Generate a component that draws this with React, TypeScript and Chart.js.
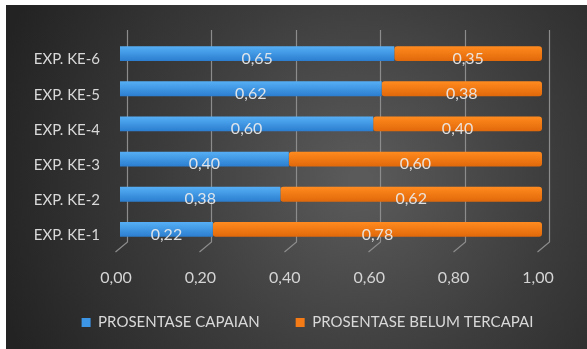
import React, { useEffect, useRef } from "react";
import { Chart, registerables } from "chart.js";

Chart.register(...registerables);

const categories = ["EXP. KE-1", "EXP. KE-2", "EXP. KE-3", "EXP. KE-4", "EXP. KE-5", "EXP. KE-6"];
const capaian = [0.22, 0.38, 0.4, 0.6, 0.62, 0.65];
const belumTercapai = [0.78, 0.62, 0.6, 0.4, 0.38, 0.35];
const seriesNames = ["PROSENTASE CAPAIAN", "PROSENTASE BELUM TERCAPAI"];

const FONT = "Lato, 'Open Sans', sans-serif";
const W = 587;
const H = 349;

const fmt = (v: number) => v.toFixed(2).replace(".", ",");

function barGradient(ctx: any, top: string, bottom: string) {
  const chart = ctx.chart;
  const yScale = chart.scales?.y;
  if (!yScale || ctx.dataIndex === undefined) return top;
  const y = yScale.getPixelForValue(ctx.dataIndex);
  const g = chart.ctx.createLinearGradient(0, y - 7, 0, y + 7);
  g.addColorStop(0, top);
  g.addColorStop(1, bottom);
  return g;
}

const backgroundPlugin = {
  id: "bgPlugin",
  beforeDraw(chart: any) {
    const { ctx } = chart;
    // place legend like the reference (centred at x≈307, text at y≈322)
    if (chart.legend) {
      const wdt = chart.legend.right - chart.legend.left;
      chart.legend.left = 36.5;
      chart.legend.right = 36.5 + wdt;
      chart.legend.top = 279;
      chart.legend.height = 70;
      chart.legend.bottom = 349;
    }
    ctx.save();
    ctx.fillStyle = "#ffffff";
    ctx.fillRect(0, 0, W, H);
    const g = ctx.createRadialGradient(360, 180, 10, 360, 180, 380);
    g.addColorStop(0, "#5a5a5a");
    g.addColorStop(0.5, "#3c3c3c");
    g.addColorStop(1, "#232323");
    ctx.fillStyle = g;
    ctx.fillRect(6, 5, W - 6, H - 5);
    ctx.restore();
  },
  beforeDatasetsDraw(chart: any) {
    const { ctx, chartArea } = chart;
    const x = chart.scales.x;
    ctx.save();
    ctx.strokeStyle = "#8c8c8c";
    ctx.lineWidth = 1.2;
    for (const t of x.ticks) {
      const px = Math.round(x.getPixelForValue(t.value)) + 7.5;
      ctx.beginPath();
      ctx.moveTo(px, chartArea.top - 6);
      ctx.lineTo(px, chartArea.bottom - 5);
      ctx.lineTo(px - 12, chartArea.bottom + 5);
      ctx.stroke();
    }
    ctx.restore();
  },
  afterDatasetsDraw(chart: any) {
    const { ctx } = chart;
    ctx.save();
    ctx.font = `16px ${FONT}`;
    ctx.fillStyle = "rgba(236,236,236,0.92)";
    ctx.textAlign = "center";
    ctx.textBaseline = "middle";
    chart.data.datasets.forEach((ds: any, di: number) => {
      const meta = chart.getDatasetMeta(di);
      meta.data.forEach((el: any, i: number) => {
        const cx = (el.x + el.base) / 2;
        ctx.fillText(fmt(ds.data[i]), cx, el.y + 5);
      });
    });
    ctx.restore();
  },
};

export default function App() {
  const ref = useRef<HTMLCanvasElement>(null);
  useEffect(() => {
    document.body.style.margin = "0";
    const chart = new Chart(ref.current!, {
      type: "bar",
      data: {
        labels: categories,
        datasets: [
          {
            label: seriesNames[0],
            data: capaian,
            backgroundColor: (c: any) => barGradient(c, "#55aef5", "#2c7fd0"),
            borderRadius: 3,
            borderSkipped: false,
            categoryPercentage: 1,
            barPercentage: 0.42,
          },
          {
            label: seriesNames[1],
            data: belumTercapai,
            backgroundColor: (c: any) => barGradient(c, "#ff8a1e", "#e2690a"),
            borderRadius: 3,
            borderSkipped: false,
            categoryPercentage: 1,
            barPercentage: 0.42,
          },
        ],
      },
      options: {
        indexAxis: "y",
        animation: false,
        responsive: false,
        layout: { padding: { top: 36, right: 45, left: 0, bottom: 7 } },
        scales: {
          x: {
            stacked: true,
            min: 0,
            max: 1,
            border: { display: false },
            grid: { display: false },
            ticks: {
              stepSize: 0.2,
              padding: 13,
              labelOffset: -4,
              color: "#d4d4d4",
              font: { family: FONT, size: 16 },
              callback: (v: any) => fmt(Number(v)),
            },
            afterFit: (s: any) => {
              s.height = 55;
            },
          },
          y: {
            stacked: true,
            reverse: true,
            border: { display: false },
            grid: { display: false },
            ticks: {
              padding: 12,
              labelOffset: 6,
              color: "#d9d9d9",
              font: { family: FONT, size: 15 },
            },
            afterFit: (s: any) => {
              s.width = 120;
            },
          },
        },
        plugins: {
          legend: {
            position: "bottom",
            maxHeight: 40,
            labels: {
              color: "#d9d9d9",
              font: { family: FONT, size: 15 },
              boxWidth: 9,
              boxHeight: 9,
              padding: 36,
              generateLabels: () =>
                seriesNames.map((n, i) => ({
                  text: n,
                  fillStyle: i === 0 ? "#3d95e6" : "#f47b16",
                  strokeStyle: i === 0 ? "#3d95e6" : "#f47b16",
                  lineWidth: 0,
                  fontColor: "#d9d9d9",
                  datasetIndex: i,
                  hidden: false,
                })),
            },
          },
          tooltip: { enabled: false },
        },
      },
      plugins: [backgroundPlugin],
    });
    return () => chart.destroy();
  }, []);
  return (
    <div style={{ position: "fixed", left: 0, top: 0, width: W, height: H }}>
      <canvas ref={ref} width={W} height={H} style={{ width: W, height: H, display: "block" }} />
    </div>
  );
}
